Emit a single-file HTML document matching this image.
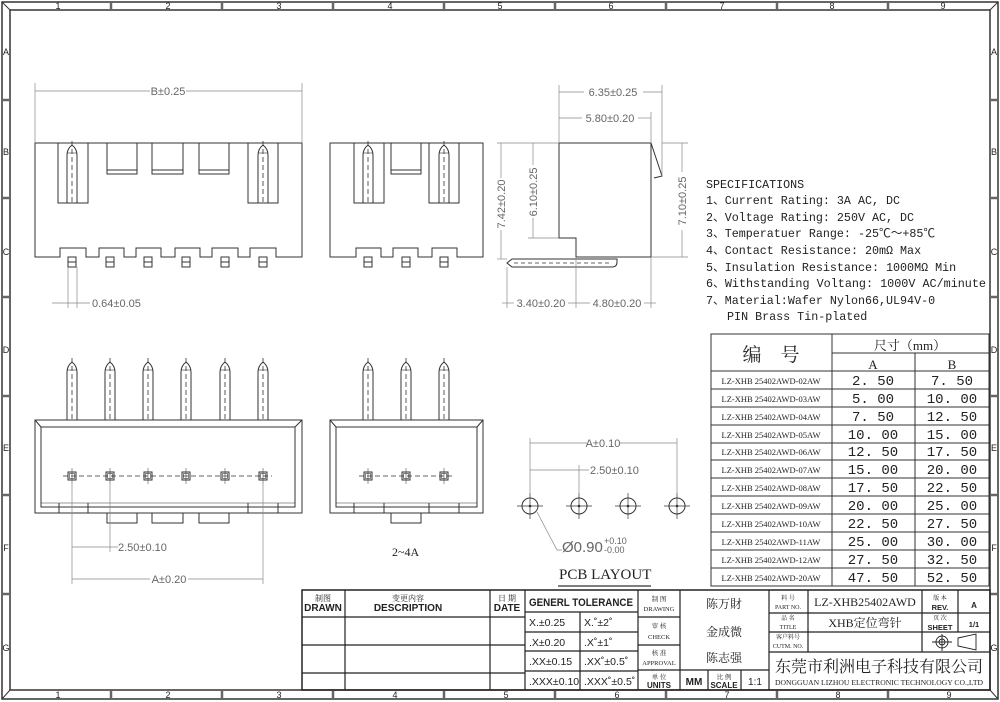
<!DOCTYPE html>
<html><head><meta charset="utf-8"><style>
html,body{margin:0;padding:0;background:#fff}
svg{display:block}
text{font-family:"Liberation Sans","Noto Sans CJK SC",sans-serif;fill:#222}
.m,.m text{font-family:"Liberation Mono","Noto Sans CJK SC",monospace}
.s,.s text{font-family:"Liberation Serif","Noto Serif CJK SC",serif}
.d,.d text{font-family:"Liberation Sans","Noto Sans CJK SC",sans-serif;fill:#666;font-size:11px}
</style></head><body>
<svg width="1000" height="702" viewBox="0 0 1000 702" xmlns="http://www.w3.org/2000/svg" fill="none" stroke="#333" stroke-width="1">
<defs>
<g id="vp"><path d="M-5,0 V-48 Q-5,-54 0,-58 Q5,-54 5,-48 V0"/><line x1="0" y1="-62" x2="0" y2="0" stroke-dasharray="5,3" stroke-width="0.8"/><line x1="-5" y1="-50" x2="5" y2="-50" stroke-width="0.6"/></g>
<g id="bp"><rect x="-4" y="0" width="8" height="10"/><line x1="-4" y1="5" x2="4" y2="5"/></g>
<g id="sq"><rect x="-4" y="-4" width="8" height="8"/><rect x="-2.5" y="-2.5" width="5" height="5" stroke-width="0.6"/><line x1="0" y1="-8" x2="0" y2="8" stroke-width="0.5"/></g>
<g id="hole"><circle r="8"/><line x1="-13" y1="0" x2="13" y2="0" stroke-width="0.7"/><line x1="0" y1="-13" x2="0" y2="13" stroke-width="0.7"/><circle r="0.8" fill="#333"/></g>
</defs>
<!-- frame -->
<rect x="2" y="2" width="996" height="697" stroke-width="1.5"/>
<rect x="10" y="10" width="980" height="680" stroke-width="1.5"/>
<line x1="2" y1="2" x2="10" y2="10"/><line x1="998" y1="2" x2="990" y2="10"/><line x1="2" y1="699" x2="10" y2="690"/><line x1="998" y1="699" x2="990" y2="690"/>
<g stroke-width="2.5" stroke="#666">
<line x1="111" y1="3" x2="111" y2="10"/><line x1="222" y1="3" x2="222" y2="10"/><line x1="333" y1="3" x2="333" y2="10"/><line x1="444" y1="3" x2="444" y2="10"/><line x1="555" y1="3" x2="555" y2="10"/><line x1="666" y1="3" x2="666" y2="10"/><line x1="777" y1="3" x2="777" y2="10"/><line x1="888" y1="3" x2="888" y2="10"/>
<line x1="111" y1="691" x2="111" y2="698"/><line x1="222" y1="691" x2="222" y2="698"/><line x1="333" y1="691" x2="333" y2="698"/><line x1="444" y1="691" x2="444" y2="698"/><line x1="555" y1="691" x2="555" y2="698"/><line x1="666" y1="691" x2="666" y2="698"/><line x1="777" y1="691" x2="777" y2="698"/><line x1="888" y1="691" x2="888" y2="698"/>
<line x1="3" y1="100" x2="10" y2="100"/><line x1="3" y1="198" x2="10" y2="198"/><line x1="3" y1="297" x2="10" y2="297"/><line x1="3" y1="396" x2="10" y2="396"/><line x1="3" y1="495" x2="10" y2="495"/><line x1="3" y1="594" x2="10" y2="594"/>
<line x1="990" y1="100" x2="997" y2="100"/><line x1="990" y1="198" x2="997" y2="198"/><line x1="990" y1="297" x2="997" y2="297"/><line x1="990" y1="396" x2="997" y2="396"/><line x1="990" y1="495" x2="997" y2="495"/><line x1="990" y1="594" x2="997" y2="594"/>
</g>
<g stroke="none" font-size="9" text-anchor="middle">
<text x="58" y="9">1</text><text x="168" y="9">2</text><text x="279" y="9">3</text><text x="390" y="9">4</text><text x="500" y="9">5</text><text x="611" y="9">6</text><text x="722" y="9">7</text><text x="832" y="9">8</text><text x="943" y="9">9</text>
<text x="58" y="698">1</text><text x="168" y="698">2</text><text x="279" y="698">3</text><text x="395" y="698">4</text><text x="506" y="698">5</text><text x="617" y="698">6</text><text x="727" y="698">7</text><text x="838" y="698">8</text><text x="949" y="698">9</text>
<text x="6" y="55">A</text><text x="6" y="155">B</text><text x="6" y="255">C</text><text x="6" y="353">D</text><text x="6" y="451">E</text><text x="6" y="551">F</text><text x="6" y="651">G</text>
<text x="994" y="55">A</text><text x="994" y="155">B</text><text x="994" y="255">C</text><text x="994" y="353">D</text><text x="994" y="451">E</text><text x="994" y="551">F</text><text x="994" y="651">G</text>
</g>

<!-- front view 1 -->
<path d="M35,143 H302 V257 H276 V248 H250 V257 H238 V248 H212 V257 H200 V248 H175 V257 H161 V248 H136 V257 H124 V248 H99 V257 H86 V248 H60 V257 H35 Z"/>
<rect x="58" y="143" width="30" height="60"/><rect x="248" y="143" width="30" height="60"/>
<rect x="107" y="143" width="30" height="31"/><line x1="107" y1="170" x2="137" y2="170"/>
<rect x="152" y="143" width="31" height="31"/><line x1="152" y1="170" x2="183" y2="170"/>
<rect x="199" y="143" width="30" height="31"/><line x1="199" y1="170" x2="229" y2="170"/>
<use href="#vp" x="72" y="203"/><use href="#vp" x="263" y="203"/>
<use href="#bp" x="72" y="257"/><use href="#bp" x="110" y="257"/><use href="#bp" x="148" y="257"/><use href="#bp" x="186" y="257"/><use href="#bp" x="225" y="257"/><use href="#bp" x="263" y="257"/>
<g stroke="#888" stroke-width="0.7">
<line x1="35" y1="83" x2="35" y2="143"/><line x1="302" y1="83" x2="302" y2="143"/><line x1="35" y1="91" x2="150" y2="91"/><line x1="186" y1="91" x2="302" y2="91"/>
<line x1="68" y1="267" x2="68" y2="308"/><line x1="77" y1="267" x2="77" y2="308"/><line x1="52" y1="303" x2="90" y2="303"/>
</g>
<text class="d" x="168" y="95" stroke="none" text-anchor="middle">B±0.25</text>
<text class="d" x="92" y="307" stroke="none">0.64±0.05</text>

<!-- front view 2 -->
<path d="M330,143 H483 V257 H457 V248 H432 V257 H418 V248 H393 V257 H381 V248 H356 V257 H330 Z"/>
<rect x="354" y="143" width="30" height="60"/><rect x="429" y="143" width="30" height="60"/>
<rect x="391" y="143" width="30" height="31"/><line x1="391" y1="170" x2="421" y2="170"/>
<use href="#vp" x="368" y="203"/><use href="#vp" x="444" y="203"/>
<use href="#bp" x="368" y="257"/><use href="#bp" x="406" y="257"/><use href="#bp" x="444" y="257"/>

<!-- side view -->
<path d="M559,143 H651 V257 H576 V238 H559 Z"/>
<path d="M651,143 L662,176 L654,178"/>
<path d="M617,259 H512 L507,263 L512,267 H612 Q617,267 617,262 Z"/>
<line x1="514" y1="263" x2="612" y2="263" stroke-dasharray="4,3" stroke-width="0.7"/>
<g stroke="#888" stroke-width="0.7">
<line x1="559" y1="85" x2="559" y2="143"/><line x1="662" y1="85" x2="662" y2="176"/><line x1="651" y1="112" x2="651" y2="143"/>
<line x1="559" y1="92" x2="584" y2="92"/><line x1="643" y1="92" x2="662" y2="92"/>
<line x1="559" y1="118" x2="582" y2="118"/><line x1="638" y1="118" x2="651" y2="118"/>
<line x1="497" y1="143" x2="559" y2="143"/><line x1="497" y1="259" x2="507" y2="259"/>
<line x1="501" y1="143" x2="501" y2="178"/><line x1="501" y1="230" x2="501" y2="259"/>
<line x1="533" y1="143" x2="533" y2="165"/><line x1="533" y1="218" x2="533" y2="238"/><line x1="528" y1="238" x2="559" y2="238"/>
<line x1="662" y1="143" x2="688" y2="143"/><line x1="651" y1="257" x2="688" y2="257"/>
<line x1="682" y1="143" x2="682" y2="172"/><line x1="682" y1="230" x2="682" y2="257"/>
<line x1="507" y1="267" x2="507" y2="308"/><line x1="576" y1="257" x2="576" y2="308"/><line x1="651" y1="257" x2="651" y2="308"/>
<line x1="502" y1="303" x2="514" y2="303"/><line x1="568" y1="303" x2="590" y2="303"/><line x1="644" y1="303" x2="656" y2="303"/>
</g>
<g stroke="none">
<text class="d" x="613" y="96" text-anchor="middle">6.35±0.25</text>
<text class="d" x="610" y="122" text-anchor="middle">5.80±0.20</text>
<text class="d" transform="translate(505,204) rotate(-90)" text-anchor="middle">7.42±0.20</text>
<text class="d" transform="translate(537,192) rotate(-90)" text-anchor="middle">6.10±0.25</text>
<text class="d" transform="translate(686,201) rotate(-90)" text-anchor="middle">7.10±0.25</text>
<text class="d" x="541" y="307" text-anchor="middle">3.40±0.20</text>
<text class="d" x="617" y="307" text-anchor="middle">4.80±0.20</text>
</g>

<!-- bottom view 1 -->
<rect x="35" y="420" width="267" height="93"/>
<path d="M41,427 H295 V507 H41 Z"/><line x1="35" y1="420" x2="41" y2="427"/><line x1="302" y1="420" x2="295" y2="427"/><line x1="41" y1="503" x2="295" y2="503" stroke-width="0.6"/>
<line x1="59" y1="503" x2="59" y2="513"/><line x1="88" y1="503" x2="88" y2="513"/><line x1="248" y1="503" x2="248" y2="513"/><line x1="278" y1="503" x2="278" y2="513"/>
<rect x="107" y="513" width="30" height="10"/><rect x="152" y="513" width="31" height="10"/><rect x="199" y="513" width="30" height="10"/>
<use href="#vp" x="72" y="420"/><use href="#vp" x="110" y="420"/><use href="#vp" x="148" y="420"/><use href="#vp" x="186" y="420"/><use href="#vp" x="225" y="420"/><use href="#vp" x="263" y="420"/>
<line x1="63" y1="476" x2="272" y2="476" stroke-dasharray="5,3" stroke-width="0.8"/>
<use href="#sq" x="72" y="476"/><use href="#sq" x="110" y="476"/><use href="#sq" x="148" y="476"/><use href="#sq" x="186" y="476"/><use href="#sq" x="225" y="476"/><use href="#sq" x="263" y="476"/>
<g stroke="#888" stroke-width="0.7">
<line x1="72" y1="484" x2="72" y2="584"/><line x1="110" y1="484" x2="110" y2="552"/><line x1="263" y1="484" x2="263" y2="584"/>
<line x1="72" y1="547" x2="118" y2="547"/><line x1="72" y1="579" x2="150" y2="579"/><line x1="188" y1="579" x2="263" y2="579"/>
</g>
<text class="d" x="118" y="551" stroke="none">2.50±0.10</text>
<text class="d" x="169" y="583" stroke="none" text-anchor="middle">A±0.20</text>

<!-- bottom view 2 -->
<rect x="330" y="420" width="153" height="93"/>
<path d="M336,427 H477 V507 H336 Z"/><line x1="330" y1="420" x2="336" y2="427"/><line x1="483" y1="420" x2="477" y2="427"/><line x1="336" y1="503" x2="477" y2="503" stroke-width="0.6"/>
<line x1="354" y1="503" x2="354" y2="513"/><line x1="384" y1="503" x2="384" y2="513"/><line x1="429" y1="503" x2="429" y2="513"/><line x1="459" y1="503" x2="459" y2="513"/>
<rect x="391" y="513" width="30" height="10"/>
<use href="#vp" x="368" y="420"/><use href="#vp" x="406" y="420"/><use href="#vp" x="444" y="420"/>
<line x1="359" y1="476" x2="453" y2="476" stroke-dasharray="5,3" stroke-width="0.8"/>
<use href="#sq" x="368" y="476"/><use href="#sq" x="406" y="476"/><use href="#sq" x="444" y="476"/>
<text class="s" x="392" y="556" stroke="none" font-size="12">2~4A</text>

<!-- PCB -->
<use href="#hole" x="530" y="506"/><use href="#hole" x="579" y="506"/><use href="#hole" x="628" y="506"/><use href="#hole" x="677" y="506"/>
<g stroke="#888" stroke-width="0.7">
<line x1="530" y1="438" x2="530" y2="493"/><line x1="579" y1="465" x2="579" y2="493"/><line x1="677" y1="438" x2="677" y2="493"/>
<line x1="530" y1="443" x2="587" y2="443"/><line x1="620" y1="443" x2="677" y2="443"/><line x1="530" y1="470" x2="589" y2="470"/>
<path d="M537,512 L557,550 H562"/>
</g>
<text class="d" x="590" y="474" stroke="none">2.50±0.10</text>
<text class="d" x="603" y="447" stroke="none" text-anchor="middle">A±0.10</text>
<text class="d" x="562" y="552" stroke="none" style="font-size:15px">Ø0.90</text>
<text class="d" x="604" y="544" stroke="none" style="font-size:9px">+0.10</text>
<text class="d" x="604" y="553" stroke="none" style="font-size:9px">-0.00</text>
<text class="s" x="559" y="579" stroke="none" font-size="15">PCB LAYOUT</text>
<line x1="558" y1="586" x2="651" y2="586" stroke-width="1.3"/>

<!-- specs -->
<g stroke="none" class="m" font-size="11.7">
<text x="706" y="188">SPECIFICATIONS</text>
<text x="706" y="204">1、Current Rating: 3A AC, DC</text>
<text x="706" y="221">2、Voltage Rating: 250V AC, DC</text>
<text x="706" y="237">3、Temperatuer Range: -25℃～+85℃</text>
<text x="706" y="254">4、Contact Resistance: 20mΩ Max</text>
<text x="706" y="271">5、Insulation Resistance: 1000MΩ Min</text>
<text x="706" y="287" textLength="280" lengthAdjust="spacingAndGlyphs">6、Withstanding Voltang: 1000V AC/minute</text>
<text x="706" y="304">7、Material:Wafer Nylon66,UL94V-0</text>
<text x="706" y="320" xml:space="preserve">   PIN Brass Tin-plated</text>
</g>

<!-- table -->
<g stroke="#333">
<rect x="711" y="334" width="278" height="252"/>
<line x1="832" y1="334" x2="832" y2="586"/><line x1="915" y1="353" x2="915" y2="586"/><line x1="832" y1="353" x2="989" y2="353"/>
<line x1="711" y1="371" x2="989" y2="371"/><line x1="711" y1="389" x2="989" y2="389"/><line x1="711" y1="407" x2="989" y2="407"/><line x1="711" y1="425" x2="989" y2="425"/><line x1="711" y1="443" x2="989" y2="443"/><line x1="711" y1="460" x2="989" y2="460"/><line x1="711" y1="478" x2="989" y2="478"/><line x1="711" y1="496" x2="989" y2="496"/><line x1="711" y1="514" x2="989" y2="514"/><line x1="711" y1="532" x2="989" y2="532"/><line x1="711" y1="550" x2="989" y2="550"/><line x1="711" y1="568" x2="989" y2="568"/>
</g>
<g stroke="none" class="s">
<text x="771" y="361" font-size="19" text-anchor="middle">编　号</text>
<text x="910" y="350" font-size="13" text-anchor="middle">尺寸（mm）</text>
<text x="873" y="369" font-size="13" text-anchor="middle">A</text><text x="952" y="369" font-size="13" text-anchor="middle">B</text>
<g font-size="8.5" text-anchor="middle">
<text x="771" y="384">LZ-XHB 25402AWD-02AW</text><text x="771" y="402">LZ-XHB 25402AWD-03AW</text><text x="771" y="420">LZ-XHB 25402AWD-04AW</text><text x="771" y="438">LZ-XHB 25402AWD-05AW</text><text x="771" y="455">LZ-XHB 25402AWD-06AW</text><text x="771" y="473">LZ-XHB 25402AWD-07AW</text><text x="771" y="491">LZ-XHB 25402AWD-08AW</text><text x="771" y="509">LZ-XHB 25402AWD-09AW</text><text x="771" y="527">LZ-XHB 25402AWD-10AW</text><text x="771" y="545">LZ-XHB 25402AWD-11AW</text><text x="771" y="563">LZ-XHB 25402AWD-12AW</text><text x="771" y="581">LZ-XHB 25402AWD-20AW</text>
</g>
</g>
<g stroke="none" class="m" font-size="14" text-anchor="middle">
<text x="873" y="385">2. 50</text><text x="873" y="403">5. 00</text><text x="873" y="421">7. 50</text><text x="873" y="439">10. 00</text><text x="873" y="456">12. 50</text><text x="873" y="474">15. 00</text><text x="873" y="492">17. 50</text><text x="873" y="510">20. 00</text><text x="873" y="528">22. 50</text><text x="873" y="546">25. 00</text><text x="873" y="564">27. 50</text><text x="873" y="582">47. 50</text>
<text x="952" y="385">7. 50</text><text x="952" y="403">10. 00</text><text x="952" y="421">12. 50</text><text x="952" y="439">15. 00</text><text x="952" y="456">17. 50</text><text x="952" y="474">20. 00</text><text x="952" y="492">22. 50</text><text x="952" y="510">25. 00</text><text x="952" y="528">27. 50</text><text x="952" y="546">30. 00</text><text x="952" y="564">32. 50</text><text x="952" y="582">52. 50</text>
</g>

<!-- title block -->
<g stroke="#222" stroke-width="1.2">
<rect x="302" y="590" width="688" height="100" stroke-width="1.5"/>
<line x1="345" y1="590" x2="345" y2="690"/><line x1="490" y1="590" x2="490" y2="690"/><line x1="525" y1="590" x2="525" y2="690"/>
<line x1="302" y1="617" x2="525" y2="617"/><line x1="302" y1="645" x2="525" y2="645"/><line x1="302" y1="673" x2="525" y2="673"/>
<line x1="580" y1="612" x2="580" y2="690"/><line x1="638" y1="590" x2="638" y2="690"/><line x1="680" y1="590" x2="680" y2="690"/>
<line x1="525" y1="612" x2="638" y2="612"/><line x1="525" y1="632" x2="638" y2="632"/><line x1="525" y1="651" x2="638" y2="651"/><line x1="525" y1="671" x2="638" y2="671"/>
<line x1="638" y1="617" x2="680" y2="617"/><line x1="638" y1="645" x2="680" y2="645"/><line x1="638" y1="670" x2="769" y2="670"/>
<line x1="769" y1="590" x2="769" y2="690"/><line x1="708" y1="670" x2="708" y2="690"/><line x1="741" y1="670" x2="741" y2="690"/>
<line x1="808" y1="590" x2="808" y2="652"/><line x1="922" y1="590" x2="922" y2="652"/><line x1="958" y1="590" x2="958" y2="632"/>
<line x1="769" y1="613" x2="990" y2="613"/><line x1="769" y1="632" x2="990" y2="632"/><line x1="769" y1="652" x2="990" y2="652"/>
</g>
<g stroke="none" text-anchor="middle">
<text x="323" y="601" font-size="8" class="s">制图</text><text x="323" y="611" font-size="10" font-weight="bold">DRAWN</text>
<text x="408" y="601" font-size="8" class="s">变更内容</text><text x="408" y="611" font-size="10" font-weight="bold">DESCRIPTION</text>
<text x="507" y="601" font-size="8" class="s">日 期</text><text x="507" y="611" font-size="10" font-weight="bold">DATE</text>
<text x="581" y="606" font-size="11" font-weight="bold" textLength="104" lengthAdjust="spacingAndGlyphs">GENERL  TOLERANCE</text>
<g font-size="10.5" text-anchor="start"><text x="529" y="626">X.±0.25</text><text x="529" y="646">.X±0.20</text><text x="529" y="665">.XX±0.15</text><text x="529" y="685">.XXX±0.10</text>
<text x="584" y="626">X.˚±2˚</text><text x="584" y="646">.X˚±1˚</text><text x="584" y="665">.XX˚±0.5˚</text><text x="584" y="685">.XXX˚±0.5˚</text></g>
<g font-size="6.5" class="s"><text x="659" y="601">制  图</text><text x="659" y="611">DRAWING</text><text x="659" y="628">审  核</text><text x="659" y="639">CHECK</text><text x="659" y="655">核  准</text><text x="659" y="665">APPROVAL</text><text x="659" y="679">单  位</text></g>
<text x="659" y="688" font-size="8" font-weight="bold">UNITS</text>
<g font-size="12" class="s"><text x="724" y="608">陈万財</text><text x="724" y="636">金成微</text><text x="724" y="662">陈志强</text></g>
<text x="694" y="685" font-size="10" font-weight="bold">MM</text>
<text x="724" y="679" font-size="6.5" class="s">比  例</text><text x="724" y="688" font-size="8" font-weight="bold">SCALE</text>
<text x="755" y="685" font-size="10">1:1</text>
<g font-size="6" class="s"><text x="788" y="600">料  号</text><text x="788" y="609">PART NO.</text><text x="788" y="620">品  名</text><text x="788" y="629">TITLE</text><text x="788" y="639">客户料号</text><text x="788" y="648">CUTM. NO.</text>
<text x="940" y="600">版 本</text><text x="940" y="620">页 次</text></g>
<text x="865" y="606" font-size="12" class="s">LZ-XHB25402AWD</text>
<text x="865" y="627" font-size="12" class="s">XHB定位弯针</text>
<text x="940" y="610" font-size="7.5" font-weight="bold">REV.</text><text x="940" y="630" font-size="7.5" font-weight="bold">SHEET</text>
<text x="974" y="608" font-size="8" font-weight="bold">A</text><text x="974" y="627" font-size="7.5" font-weight="bold">1/1</text>
<text x="879" y="672" font-size="16" class="s" textLength="208" lengthAdjust="spacingAndGlyphs">东莞市利洲电子科技有限公司</text>
<text x="879" y="685" font-size="7" class="s" textLength="208" lengthAdjust="spacingAndGlyphs">DONGGUAN LIZHOU ELECTRONIC TECHNOLOGY CO.,LTD</text>
</g>
<g stroke="#222" stroke-width="0.9">
<circle cx="942" cy="642" r="6"/><circle cx="942" cy="642" r="3"/><line x1="932" y1="642" x2="952" y2="642"/><line x1="942" y1="634" x2="942" y2="651"/>
<path d="M958,638 L976,634 V650 L958,646 Z"/>
</g>
</svg>
</body></html>
